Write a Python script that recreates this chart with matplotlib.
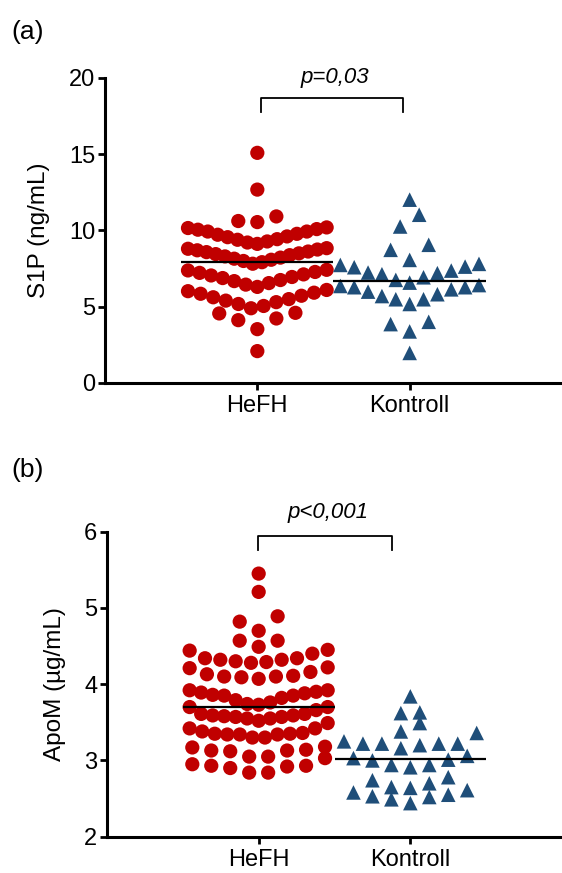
import numpy as np
import matplotlib
matplotlib.use("Agg")
import matplotlib.pyplot as plt

plt.rcParams['font.family'] = ['Liberation Sans', 'DejaVu Sans']

RED = '#C00000'
BLUE = '#1F4E79'

groups = ['HeFH', 'Kontroll']

# (a) S1P (ng/mL)
s1p_hefh = [15.09, 12.68, 10.92, 10.55, 10.62,
            10.16, 10.05, 9.93, 9.72, 9.56, 9.39, 9.21, 9.12, 9.28, 9.43, 9.61, 9.78, 9.93, 10.09, 10.20,
            8.84, 8.75, 8.62, 8.50, 8.38, 8.22, 8.08, 7.92, 7.82, 8.00, 8.15, 8.30, 8.45, 8.58, 8.70, 8.80,
            7.42, 7.28, 7.12, 6.95, 6.75, 6.55, 6.30, 6.45, 6.68, 6.88, 7.05, 7.22, 7.38,
            6.10, 5.92, 5.72, 5.50, 5.30, 5.05, 4.90, 5.18, 5.40, 5.62, 5.85, 6.02,
            4.56, 4.12, 3.53, 4.23, 4.60, 2.09]
s1p_kontroll = [12.02, 11.03, 10.26, 9.06, 8.73, 8.07,
                7.74, 7.59, 7.24, 7.13, 6.76, 6.58, 6.93, 7.20, 7.37, 7.63, 7.81,
                6.42, 6.28, 6.14, 5.82, 5.49, 5.18, 5.49, 5.70, 5.99, 6.28, 6.36,
                3.86, 4.01, 3.38, 1.97]
s1p_means = [7.92, 6.71]

# (b) ApoM (µg/mL)
apom_hefh = [5.45, 5.21, 4.89, 4.82, 4.70, 4.57, 4.49, 4.57,
             4.45, 4.40, 4.34, 4.32, 4.29, 4.22, 4.21, 4.28, 4.30, 4.32, 4.34, 4.44,
             4.13, 4.10, 4.09, 4.07, 4.10, 4.11, 4.16,
             3.92, 3.90, 3.92,
             3.88, 3.85, 3.82, 3.76, 3.73, 3.70, 3.66, 3.70, 3.74, 3.79, 3.85, 3.86, 3.89,
             3.59, 3.57, 3.55, 3.52, 3.61, 3.61, 3.49, 3.55, 3.57, 3.58, 3.59,
             3.42, 3.38, 3.42, 3.35, 3.36,
             3.35, 3.34, 3.30, 3.30, 3.34, 3.34,
             3.18, 3.14, 3.13, 3.12, 3.13, 3.17,
             3.05, 2.95, 2.93, 2.90, 2.84, 2.84, 2.92, 2.93, 3.03, 3.05]
apom_kontroll = [3.84, 3.63, 3.62, 3.49, 3.36, 3.38,
                 3.20, 3.22, 3.22, 3.22, 3.22, 3.25, 3.16,
                 3.06, 3.01, 3.00, 2.94, 3.03, 2.91, 2.94,
                 2.74, 2.70, 2.78,
                 2.65, 2.61, 2.55, 2.52, 2.44, 2.49, 2.53, 2.58, 2.64]
apom_means = [3.70, 3.02]


def swarm_offsets(values, row_h, step=0.125, span=0.91):
    # prism-like rows: sort, cut into rows, spread each row from the centre out
    values = np.asarray(values)
    order = np.argsort(values, kind='stable')
    rows, cur, start = [], [], None
    for i in order:
        if start is None or values[i] >= start + row_h:
            if cur:
                rows.append(cur)
            cur, start = [i], values[i]
        else:
            cur.append(i)
    rows.append(cur)
    off = np.zeros(len(values))
    for row in rows:
        n = len(row)
        d = step if n < 2 else min(step, span / (n - 1))
        for k, i in enumerate(row):
            if n % 2 == 1:
                m = (k + 1) // 2
                sign = -1 if k % 2 == 1 else 1
                off[i] = sign * m * d
            else:
                m = k // 2
                sign = -1 if k % 2 == 0 else 1
                off[i] = sign * (m + 0.5) * d
    return off


def panel(ax, hefh, kontroll, means, row_h, ylim, yticks, ylabel, ptext, br, label_x):
    for pos, vals, mk, col, sz in [(1, hefh, 'o', RED, 105), (2, kontroll, '^', BLUE, 110)]:
        xs = pos + swarm_offsets(vals, row_h)
        ax.scatter(xs, vals, s=sz, marker=mk, color=col, edgecolors='none', zorder=2, clip_on=False)
        ax.hlines(means[pos - 1], pos - 0.5, pos + 0.5, color='black', lw=1.6, zorder=3)

    ax.set_xlim(0, 3)
    ax.set_ylim(*ylim)
    ax.set_yticks(yticks)
    ax.set_xticks([1, 2])
    ax.set_xticklabels(groups, fontsize=17)
    ax.tick_params(axis='y', direction='out', length=5, width=2, labelsize=17, pad=2)
    ax.tick_params(axis='x', direction='out', length=5, width=2, pad=4)
    for s in ['top', 'right']:
        ax.spines[s].set_visible(False)
    for s in ['left', 'bottom']:
        ax.spines[s].set_linewidth(2.2)
    ax.set_ylabel(ylabel, fontsize=17.5)
    ax.yaxis.set_label_coords(label_x, 0.5)

    # significance bracket
    x0, x1, ytop, ybot, ytxt = br
    ax.plot([x0, x0, x1, x1], [ybot, ytop, ytop, ybot], color='black', lw=1.3, clip_on=False)
    ax.text((x0 + x1) / 2 + 0.02, ytxt, ptext, fontsize=16, style='italic',
            ha='center', va='center')


fig = plt.figure(figsize=(5.62, 8.73), dpi=100)
ax1 = fig.add_axes([0.1868, 0.5613, 0.8132, 0.3494])
ax2 = fig.add_axes([0.1904, 0.0416, 0.8096, 0.3494])

panel(ax1, s1p_hefh, s1p_kontroll, s1p_means, 1.25, (0, 20), [0, 5, 10, 15, 20],
      'S1P (ng/mL)', 'p=0,03', (1.024, 1.954, 18.7, 17.8, 20.05), -0.12)
panel(ax2, apom_hefh, apom_kontroll, apom_means, 0.2, (2, 6), [2, 3, 4, 5, 6],
      'ApoM (µg/mL)', 'p<0,001', (0.993, 1.882, 5.944, 5.76, 6.245), -0.09)

fig.text(0.021, 0.963, '(a)', fontsize=19, ha='left', va='center')
fig.text(0.021, 1 - 470 / 873, '(b)', fontsize=19, ha='left', va='center')

fig.savefig('out.png', dpi=100)
